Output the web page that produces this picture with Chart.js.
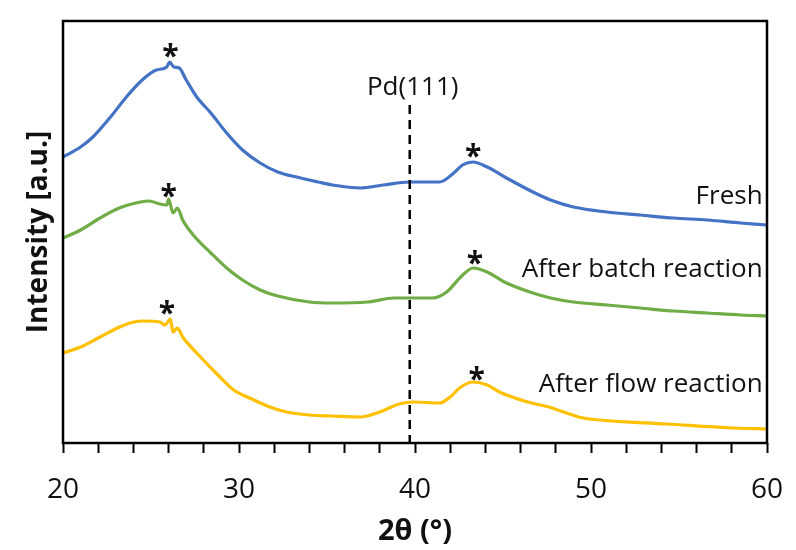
<!DOCTYPE html>
<html>
<head>
<meta charset="utf-8">
<script src="https://cdn.jsdelivr.net/npm/chart.js@4/dist/chart.umd.min.js"></script>
<style>
  html, body { margin: 0; padding: 0; background: #ffffff; }
  #wrap { width: 796px; height: 550px; }
</style>
</head>
<body>
<div id="wrap"><canvas id="xrd" width="796" height="550"></canvas></div>
<script>
// XRD patterns of the Pd catalyst (2θ in degrees, intensity in a.u., curves stacked)
const freshTheta = [20, 21, 21.7, 22.7, 23.6, 24.5, 25.3, 25.9, 26.05, 26.3, 26.6, 27.0, 27.6, 28.4, 29.3, 30.2, 31.2, 32.2, 33.5, 34.5, 35.3, 36.9, 38.2, 39.7, 41.4, 42.2, 42.7, 43.3, 44.1, 45.2, 46.7, 47.7, 49.0, 50.9, 52.8, 54.7, 56.6, 58.5, 60];
const freshIntensity = [286, 296, 306, 326, 346, 363, 373, 376, 381, 376, 375, 363, 346, 330, 310, 293, 280, 271, 265, 261, 258, 255, 258, 261, 261, 270, 278, 281, 276, 265, 251, 243, 236, 231, 228, 225, 223, 220, 218];

const batchTheta = [20, 21, 22.1, 23.2, 24.4, 24.9, 25.5, 25.9, 26.0, 26.25, 26.5, 26.8, 27.4, 28.4, 29.3, 30.2, 31.2, 32.2, 34.0, 35.3, 37.3, 38.8, 39.7, 41.0, 41.8, 42.6, 43.3, 44.1, 45.2, 46.7, 47.7, 49.0, 50.9, 52.8, 54.7, 56.6, 58.5, 60];
const batchIntensity = [205, 213, 225, 235, 241, 242, 239, 238, 244, 230, 235, 223, 208, 190, 175, 163, 153, 147, 141, 140, 141, 145, 145, 145, 151, 166, 175, 171, 160, 150, 145, 141, 138, 135, 132, 130, 128, 127];

const flowTheta = [20, 21, 22.1, 23.1, 23.8, 24.5, 25.5, 25.8, 26.1, 26.25, 26.5, 26.8, 27.6, 28.8, 29.7, 30.6, 31.6, 32.7, 34.0, 35.3, 36.9, 38.0, 39.1, 39.9, 41.4, 42.0, 42.6, 43.3, 44.1, 44.8, 46.4, 47.7, 48.6, 49.4, 50.5, 54.3, 58.1, 60];
const flowIntensity = [90, 96, 106, 115, 120, 122, 121, 118, 124, 111, 115, 106, 90, 68, 53, 45, 37, 31, 28, 27, 26, 31, 39, 41, 40, 46, 56, 61, 58, 51, 41, 35.5, 30, 25.5, 23, 19, 15, 14];

const seriesNames = ['Fresh', 'After batch reaction', 'After flow reaction'];
const seriesColors = ['#4472C4', '#70AD47', '#FFC000'];
// where each curve's name sits (2θ of right edge, intensity)
const nameTheta = [59.75, 59.75, 59.75];
const nameIntensity = [246, 173, 58];

// reflections marked with an asterisk (2θ, intensity of the mark)
const starTheta = [26.1, 43.3, 26.0, 43.4, 25.9, 43.5];
const starIntensity = [393, 293, 253, 186, 136, 70];

// Pd(111) reference position
const pdTheta = 39.7;
const pdLabel = 'Pd(111)';
const pdLabelIntensity = 355;
const pdLineTop = 338;

const xTicks = [20, 30, 40, 50, 60];
const FONT = "'Open Sans', 'DejaVu Sans', sans-serif";

function toPoints(xs, ys) { return xs.map((x, i) => ({ x: x, y: ys[i] })); }

const annotations = {
  id: 'annotations',
  afterDatasetsDraw(chart) {
    const { ctx, chartArea: a, scales: { x, y } } = chart;
    ctx.save();
    // dashed Pd(111) marker
    ctx.strokeStyle = '#000';
    ctx.lineWidth = 2.5;
    ctx.setLineDash([9, 6]);
    ctx.beginPath();
    ctx.moveTo(x.getPixelForValue(pdTheta), y.getPixelForValue(pdLineTop));
    ctx.lineTo(x.getPixelForValue(pdTheta), a.bottom);
    ctx.stroke();
    ctx.setLineDash([]);

    ctx.fillStyle = '#111';
    ctx.font = '26px ' + FONT;
    ctx.textBaseline = 'middle';
    ctx.textAlign = 'center';
    ctx.fillText(pdLabel, x.getPixelForValue(pdTheta) + 3, y.getPixelForValue(pdLabelIntensity));

    ctx.textAlign = 'right';
    seriesNames.forEach((n, i) => {
      ctx.fillText(n, x.getPixelForValue(nameTheta[i]), y.getPixelForValue(nameIntensity[i]));
    });

    ctx.font = 'bold 30px ' + FONT;
    ctx.textAlign = 'center';
    ctx.textBaseline = 'alphabetic';
    starTheta.forEach((t, i) => {
      ctx.fillText('*', x.getPixelForValue(t), y.getPixelForValue(starIntensity[i]) + 16);
    });

    // plot frame
    ctx.lineWidth = 2.5;
    ctx.strokeStyle = '#000';
    ctx.strokeRect(a.left, a.top, a.right - a.left, a.bottom - a.top);
    ctx.restore();
  }
};

new Chart(document.getElementById('xrd'), {
  type: 'line',
  data: {
    datasets: [
      { data: toPoints(freshTheta, freshIntensity), borderColor: seriesColors[0] },
      { data: toPoints(batchTheta, batchIntensity), borderColor: seriesColors[1] },
      { data: toPoints(flowTheta, flowIntensity), borderColor: seriesColors[2] }
    ].map(d => Object.assign(d, { borderWidth: 3.2, pointRadius: 0, fill: false, tension: 0.35, cubicInterpolationMode: 'monotone' }))
  },
  options: {
    responsive: false,
    animation: false,
    layout: { padding: { top: 21, right: 29, left: 0, bottom: 0 } },
    plugins: { legend: { display: false }, tooltip: { enabled: false } },
    scales: {
      x: {
        type: 'linear', min: 20, max: 60,
        afterBuildTicks(s) {
          const t = [];
          for (let v = 20; v <= 60; v += 2) t.push({ value: v });
          s.ticks = t;
        },
        ticks: {
          autoSkip: false, maxRotation: 0, padding: 20, color: '#111',
          font: { family: FONT, size: 28 },
          callback: v => (xTicks.includes(v) ? String(v) : '')
        },
        grid: { drawOnChartArea: false, drawTicks: true, tickLength: 10, tickColor: '#000', tickWidth: 2 },
        border: { display: false },
        title: { display: true, text: '2θ (°)', color: '#111', font: { family: FONT, size: 29, weight: 'bold' }, padding: { top: 0, bottom: 1 } },
        afterFit(s) { s.height = 107; s.paddingLeft = 0; s.paddingRight = 0; }
      },
      y: {
        min: 0, max: 422,
        ticks: { display: false },
        grid: { display: false, drawTicks: false },
        border: { display: false },
        title: { display: true, text: 'Intensity [a.u.]', color: '#111', font: { family: FONT, size: 28, weight: 'bold' }, padding: { top: 22, bottom: 0 } },
        afterFit(s) { s.width = 63; }
      }
    }
  },
  plugins: [annotations]
});
</script>
</body>
</html>
